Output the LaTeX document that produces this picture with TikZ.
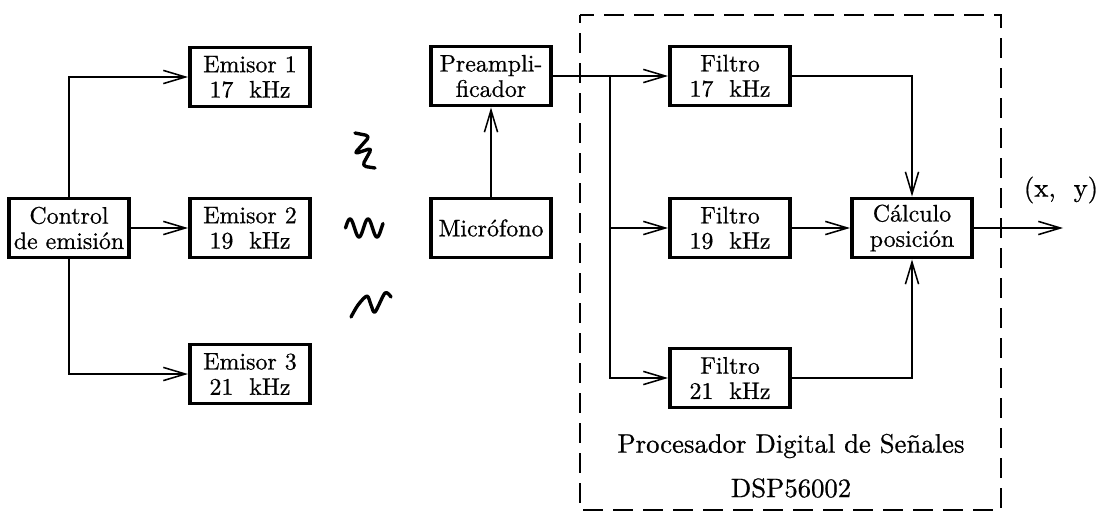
\documentclass[tikz,border=0pt]{standalone}
\usepackage{fontspec}
\newfontfamily\boxfont{lmroman10-regular.otf}[FakeBold=0.7]
\usepackage{tikz}
\usetikzlibrary{positioning,arrows.meta,calc}

\tikzset{
  blk/.style={draw, line width=2.8pt, minimum width=3.0cm, minimum height=1.475cm,
              inner sep=1pt, align=center, font=\boxfont\fontsize{17}{18}\selectfont},
  link/.style={line width=1.1pt, -{Straight Barb[length=5.5mm, width=3.3mm, line width=1.1pt]}},
  wave/.style={line width=2.4pt, line cap=round, line join=round},
  lbl/.style={font=\boxfont\fontsize{19}{21}\selectfont},
}

\begin{document}
\begin{tikzpicture}[x=0.025cm, y=-0.025cm]
    \useasboundingbox (0,0) rectangle (1096,513);
    % DSP frame
    \draw[line width=1.4pt, dash pattern=on 0.5cm off 0.25cm, dash phase=0.3cm] (580,15) rectangle (1001,510);
    \node[lbl] (dsptxt) at (791,446) {Procesador Digital de Se\~nales};
    \node[lbl] (dspname) at (791,488) {DSP56002};

    % blocks
    \node[blk] (ctrl) at (69,228)  {Control\\de emisi\'on};
    \node[blk] (em1)  at (250,77)  {Emisor 1\\17\ \ kHz};
    \node[blk] (em2)  at (250,228) {Emisor 2\\19\ \ kHz};
    \node[blk] (em3)  at (250,374) {Emisor 3\\21\ \ kHz};
    \node[blk] (pre)  at (491,76)  {Preampli-\\ficador};
    \node[blk] (mic)  at (491,228) {Micr\'ofono};
    \node[blk] (f17)  at (730,76)  {Filtro\\17\ \ kHz};
    \node[blk] (f19)  at (730,228) {Filtro\\19\ \ kHz};
    \node[blk] (f21)  at (730,378) {Filtro\\21\ \ kHz};
    \node[blk] (calc) at (912,228) {C\'alculo\\posici\'on};

    % emission side
    \draw[link] (ctrl) -- (em2);
    \draw[link] (ctrl.north) |- (em1.west);
    \draw[link] (ctrl.south) |- (em3.west);

    % sound waves
    \draw[wave, rounded corners=3pt] (355,133) -- (370,136) -- (354,154) -- (372,148) -- (362,166) -- (375,168);
    \draw[wave] plot[domain=345.5:383, samples=60, smooth] (\x, {228-9*sin(20*(\x-345.5))});
    \draw[wave] plot[smooth, tension=0.5] coordinates {(351,317) (358,305) (367,296) (371,305) (375,312) (385,293) (391,297)};

    % reception side
    \draw[link] (mic) -- (pre);
    \draw[link] (pre) -- (f17);
    \coordinate (split) at (610,76);
    \draw[link] (split) |- (f19.west);
    \draw[link] (split) |- (f21.west);
    \draw[link] (f17.east) -| (calc.north);
    \draw[link] (f19) -- (calc);
    \draw[link] (f21.east) -| (calc.south);
    \coordinate (out) at (1063,228);
    \draw[link] (calc) -- (out);
    \node[lbl] (xy) at (1061,190) {(x,\ \ y)};
  \end{tikzpicture}
\end{document}
